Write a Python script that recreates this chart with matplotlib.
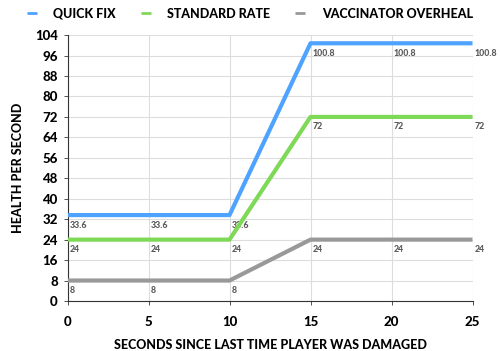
import matplotlib
matplotlib.use("Agg")
import matplotlib.pyplot as plt

# datos
seconds = [0, 5, 10, 15, 20, 25]
quick_fix = [33.6, 33.6, 33.6, 100.8, 100.8, 100.8]
standard_rate = [24, 24, 24, 72, 72, 72]
vaccinator = [8, 8, 8, 24, 24, 24]
series_names = ["QUICK FIX", "STANDARD RATE", "VACCINATOR OVERHEAL"]
series_colors = ["#4da3ff", "#7ed957", "#999999"]
y_ticks = list(range(0, 105, 8))

plt.rcParams['font.family'] = ['Lato', 'DejaVu Sans']

fig = plt.figure(figsize=(5, 3.51), dpi=100)
ax = fig.add_axes([0.135, 0.1425, 0.81, 0.7575])

for vals, name, col in zip([quick_fix, standard_rate, vaccinator], series_names, series_colors):
    ax.plot(seconds, vals, color=col, lw=3, label=name, solid_capstyle='butt', zorder=3)
    for x, v in zip(seconds, vals):
        lbl = f"{v:g}"
        ax.annotate(lbl, (x, v), xytext=(1.5, -4), textcoords='offset points',
                    ha='left', va='top', fontsize=6.3, color='#5a5a5a', fontweight='black')

ax.set_xlim(0, 25)
ax.set_ylim(0, 104)
ax.set_xticks(seconds)
ax.set_yticks(y_ticks)
ax.grid(True, color='#dddddd', lw=0.8)
ax.set_axisbelow(True)
for s in ['top', 'right']:
    ax.spines[s].set_visible(False)
for s in ['left', 'bottom']:
    ax.spines[s].set_color('#333333')
    ax.spines[s].set_linewidth(0.8)
ax.tick_params(axis='both', length=3, width=0.6, color='#333333', labelsize=9.5, pad=4)
ax.tick_params(axis='x', pad=8)
for t in ax.get_xticklabels() + ax.get_yticklabels():
    t.set_fontweight('black')

ax.set_xlabel("SECONDS SINCE LAST TIME PLAYER WAS DAMAGED", fontsize=9, fontweight='black', labelpad=8)
ax.set_ylabel("HEALTH PER SECOND", fontsize=9, fontweight='black', labelpad=8)

leg = fig.legend(loc='upper center', bbox_to_anchor=(0.5, 1.01), ncol=3, frameon=False,
                 handlelength=0.8, handletextpad=1.3, columnspacing=2.0,
                 prop={'size': 9, 'weight': 'black'})
for h in leg.get_lines():
    h.set_linewidth(2)

fig.savefig("out.png", dpi=100)
